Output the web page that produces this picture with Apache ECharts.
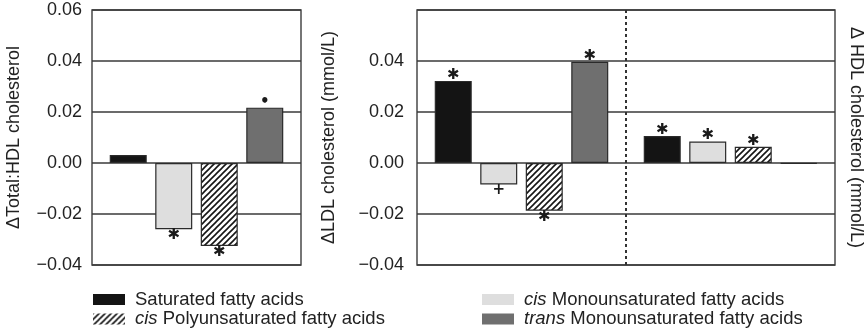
<!DOCTYPE html>
<html>
<head>
<meta charset="utf-8">
<script src="https://cdn.jsdelivr.net/npm/echarts@6/dist/echarts.min.js"></script>
<style>
html,body{margin:0;padding:0;background:#fff;}
#chart{width:866px;height:335px;}
</style>
</head>
<body>
<div id="chart"></div>
<script>
// ---- data ----
const seriesNames = ['Saturated fatty acids', 'cis Monounsaturated fatty acids', 'cis Polyunsaturated fatty acids', 'trans Monounsaturated fatty acids'];
const leftCategories = ['Total:HDL'];
const rightCategories = ['LDL', 'HDL'];
const totalHdl = [0.0031, -0.0260, -0.0325, 0.0217];
const ldl = [0.0322, -0.0084, -0.0187, 0.0397];
const hdl = [0.0106, 0.0084, 0.0064, -0.0003];
const totalHdlMarks = ['', '✱', '✱', '•'];
const ldlMarks = ['✱', '+', '✱', '✱'];
const hdlMarks = ['✱', '✱', '✱', ''];
const yTicks = [-0.04, -0.02, 0.00, 0.02, 0.04, 0.06];
const dividerAt = [1]; // boundary between LDL and HDL groups (category units)

// ---- styles ----
function hatch() {
  const s = 6;
  const c = document.createElement('canvas');
  c.width = s; c.height = s;
  const g = c.getContext('2d');
  g.fillStyle = '#fff'; g.fillRect(0, 0, s, s);
  g.strokeStyle = '#151515'; g.lineWidth = 1.6;
  g.beginPath();
  g.moveTo(0, s); g.lineTo(s, 0);
  g.moveTo(-s / 2, s / 2); g.lineTo(s / 2, -s / 2);
  g.moveTo(s / 2, s * 1.5); g.lineTo(s * 1.5, s / 2);
  g.stroke();
  return c;
}
const fills = ['#141414', '#dedede', { image: hatch(), repeat: 'repeat' }, '#6f6f6f'];
const FONT = 'Liberation Sans';
const minus = v => v.toFixed(2).replace('-', '\u2212');

function barSeries(name, idx, values, marks, axisIdx) {
  return {
    type: 'bar',
    name: name,
    xAxisIndex: axisIdx,
    yAxisIndex: axisIdx,
    barWidth: 37,
    barGap: '23%',
    itemStyle: { color: fills[idx], borderColor: '#2a2a2a', borderWidth: 1.2 },
    label: {
      show: true,
      formatter: p => marks[p.dataIndex],
      fontFamily: 'DejaVu Sans',
      fontWeight: 'bold',
      fontSize: 15,
      lineHeight: 12,
      color: '#1a1a1a',
      distance: 0
    },
    data: values.map(v => ({ value: v, label: { position: v < 0 ? 'bottom' : 'top' } }))
  };
}

const series = [];
seriesNames.forEach((n, i) => {
  series.push(barSeries(n, i, [totalHdl[i]], [totalHdlMarks[i]], 0));
});
seriesNames.forEach((n, i) => {
  series.push(barSeries(n, i, [ldl[i], hdl[i]], [ldlMarks[i], hdlMarks[i]], 1));
});
// dashed divider between the LDL and HDL groups
series.push({
  type: 'line', name: 'divider', xAxisIndex: 2, yAxisIndex: 2, data: [], silent: true,
  markLine: {
    silent: true, symbol: ['none', 'none'], label: { show: false },
    lineStyle: { color: '#333', width: 2, type: [3, 3] },
    data: dividerAt.map(x => ({ xAxis: x }))
  }
});

const yBase = {
  type: 'value', min: yTicks[0], max: yTicks[yTicks.length - 1], interval: 0.02,
  axisLine: { show: false }, axisTick: { show: false },
  splitLine: { show: true, lineStyle: { color: '#3a3a3a', width: 1.5 } },
  nameLocation: 'middle',
  nameTextStyle: { fontFamily: FONT, fontSize: 18, color: '#222' }
};

const legendRich = { i: { fontStyle: 'italic', fontFamily: FONT, fontSize: 18.5, lineHeight: 18, color: '#222' } };
const legendFmt = n => n.replace(/^(cis|trans) /, '{i|$1} ');
const legendBase = {
  type: 'plain', orient: 'vertical', top: 290, height: 45, itemWidth: 32, itemHeight: 11, itemGap: 0.5,
  icon: 'rect', padding: 0,
  itemStyle: { borderWidth: 0 },
  textStyle: { fontFamily: FONT, fontSize: 18.5, color: '#222', lineHeight: 18, padding: [0, 0, 0, 5], rich: legendRich },
  formatter: legendFmt,
  selectedMode: false
};

const option = {
  animation: false,
  backgroundColor: '#fff',
  grid: [
    { left: 92, right: 565, top: 10, bottom: 70, show: true, borderColor: '#4a4a4a', borderWidth: 1.5 },
    { left: 417, right: 31, top: 10, bottom: 70, show: true, borderColor: '#4a4a4a', borderWidth: 1.5 }
  ],
  xAxis: [
    { type: 'category', gridIndex: 0, data: leftCategories, axisLine: { show: false }, axisTick: { show: false }, axisLabel: { show: false }, splitLine: { show: false } },
    { type: 'category', gridIndex: 1, data: rightCategories, axisLine: { show: false }, axisTick: { show: false }, axisLabel: { show: false }, splitLine: { show: false } },
    { type: 'value', gridIndex: 1, min: 0, max: rightCategories.length, show: false, splitLine: { show: false } }
  ],
  yAxis: [
    Object.assign({}, yBase, {
      gridIndex: 0, name: '\u0394Total:HDL cholesterol', nameGap: 69,
      axisLabel: { fontFamily: FONT, fontSize: 18, color: '#222', margin: 10, formatter: minus }
    }),
    Object.assign({}, yBase, {
      gridIndex: 1, name: '\u0394LDL cholesterol (mmol/L)', nameGap: 79,
      axisLabel: { fontFamily: FONT, fontSize: 18, color: '#222', margin: 13, formatter: v => (v > 0.05 ? '' : minus(v)) }
    }),
    {
      type: 'value', gridIndex: 1, position: 'right', min: yTicks[0], max: yTicks[yTicks.length - 1], interval: 0.02,
      axisLine: { show: false }, axisTick: { show: false }, axisLabel: { show: false }, splitLine: { show: false },
      name: '\u0394 HDL cholesterol (mmol/L)', nameLocation: 'middle', nameRotate: -90, nameGap: 12,
      nameTextStyle: { fontFamily: FONT, fontSize: 18, color: '#222' }
    }
  ],
  legend: [
    Object.assign({}, legendBase, { left: 93, data: [seriesNames[0], seriesNames[2]] }),
    Object.assign({}, legendBase, { left: 482, data: [seriesNames[1], seriesNames[3]] })
  ],
  series: series
};

const chart = echarts.init(document.getElementById('chart'), null, { renderer: 'canvas' });
chart.setOption(option);
</script>
</body>
</html>
